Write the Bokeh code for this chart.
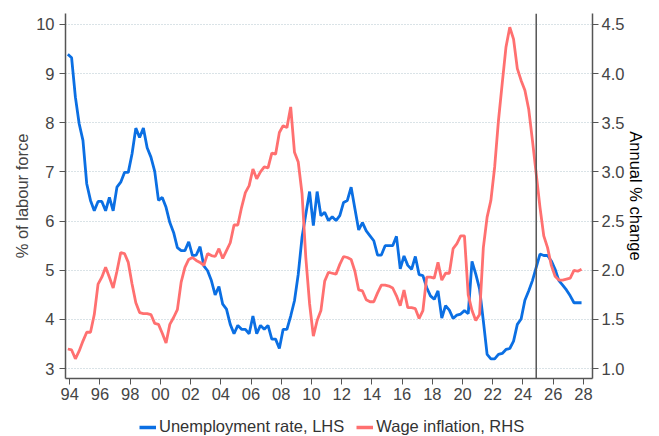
from bokeh.plotting import figure
from bokeh.layouts import column
from bokeh.models import (Range1d, LinearAxis, FixedTicker, NumeralTickFormatter,
                          Span, Legend, LegendItem, ColumnDataSource)
from bokeh.embed import file_html
from bokeh.resources import INLINE

# ---------------- data (quarterly) ----------------
start_year = 1993.875
step = 0.25

unemployment = [
    9.39, 9.32, 8.52, 7.98, 7.64, 6.76, 6.42, 6.21, 6.40, 6.40,
    6.21, 6.48, 6.21, 6.69, 6.79, 6.99, 6.99, 7.37, 7.89, 7.70,
    7.89, 7.49, 7.30, 7.01, 6.42, 6.48, 6.28, 5.97, 5.77, 5.46,
    5.40, 5.40, 5.58, 5.30, 5.31, 5.48, 5.09, 4.99, 4.79, 4.50,
    4.67, 4.31, 4.21, 3.90, 3.71, 3.88, 3.80, 3.80, 3.71, 4.07,
    3.71, 3.88, 3.80, 3.88, 3.60, 3.60, 3.41, 3.80, 3.80, 4.07,
    4.38, 4.92, 5.67, 6.14, 6.60, 5.91, 6.60, 6.11, 6.18, 6.01,
    6.09, 6.01, 6.11, 6.38, 6.42, 6.69, 6.25, 5.82, 5.97, 5.80,
    5.70, 5.60, 5.31, 5.31, 5.50, 5.50, 5.50, 5.69, 5.03, 5.29,
    5.10, 5.02, 5.28, 4.91, 4.89, 4.65, 4.48, 4.41, 4.58, 4.03,
    4.28, 4.19, 4.02, 4.09, 4.11, 4.18, 4.12, 5.18, 4.92, 4.62,
    3.97, 3.29, 3.20, 3.20, 3.29, 3.31, 3.39, 3.41, 3.56, 3.90,
    4.01, 4.39, 4.58, 4.79, 5.06, 5.33, 5.30, 5.30, 5.19, 5.02,
    4.79, 4.70, 4.60, 4.48, 4.34, 4.34, 4.34,
]

wage_inflation = [
    1.20, 1.19, 1.10, 1.18, 1.28, 1.37, 1.37, 1.55, 1.86, 1.93,
    2.03, 1.93, 1.82, 1.99, 2.18, 2.17, 2.08, 1.86, 1.67, 1.57,
    1.56, 1.56, 1.55, 1.46, 1.45, 1.36, 1.26, 1.45, 1.52, 1.60,
    1.88, 2.03, 2.11, 2.13, 2.10, 2.08, 2.05, 2.17, 2.15, 2.14,
    2.22, 2.12, 2.20, 2.28, 2.46, 2.46, 2.64, 2.79, 2.86, 3.03,
    2.93, 3.00, 3.05, 3.04, 3.19, 3.18, 3.40, 3.47, 3.45, 3.66,
    3.20, 3.10, 2.78, 2.13, 1.66, 1.33, 1.49, 1.59, 1.89, 1.98,
    1.97, 1.96, 2.06, 2.14, 2.13, 2.11, 1.99, 1.80, 1.79, 1.70,
    1.68, 1.68, 1.77, 1.85, 1.85, 1.84, 1.82, 1.74, 1.64, 1.80,
    1.62, 1.62, 1.61, 1.51, 1.59, 1.93, 1.93, 1.92, 2.08, 1.90,
    1.97, 1.97, 2.22, 2.27, 2.35, 2.35, 1.75, 1.59, 1.49, 1.55,
    2.23, 2.54, 2.71, 3.05, 3.52, 3.90, 4.27, 4.47, 4.35, 4.05,
    3.93, 3.83, 3.64, 3.32, 2.98, 2.64, 2.35, 2.23, 2.05, 1.94,
    1.90, 1.90, 1.91, 1.92, 2.00, 1.99, 2.01,
]

dates = [start_year + step * i for i in range(len(unemployment))]

x_tick_years = list(range(1994, 2029, 2))
x_tick_labels = ["94", "96", "98", "00", "02", "04", "06", "08", "10", "12",
                 "14", "16", "18", "20", "22", "24", "26", "28"]
left_ticks = [3, 4, 5, 6, 7, 8, 9, 10]
right_ticks = [1.0, 1.5, 2.0, 2.5, 3.0, 3.5, 4.0, 4.5]
forecast_start = 2024.875

series_names = ["Unemployment rate, LHS", "Wage inflation, RHS"]
BLUE = "#0B6FE3"
RED = "#FF7070"

FONT = "Liberation Sans"
TEXT = "#444444"
AXIS = "#555555"

src = ColumnDataSource(dict(x=dates, u=unemployment, w=wage_inflation))

# ---------------- main figure ----------------
p = figure(width=659, height=406, output_backend="svg", toolbar_location=None,
           x_range=Range1d(1993.72, 2028.6), y_range=Range1d(2.8, 10.22),
           min_border_left=65, min_border_right=67, min_border_top=13,
           min_border_bottom=28)
p.outline_line_color = None
p.background_fill_color = "white"
p.border_fill_color = "white"

p.extra_y_ranges = {"rhs": Range1d(0.9, 4.61)}

r_u = p.line("x", "u", source=src, line_color=BLUE, line_width=2.8)
r_w = p.line("x", "w", source=src, line_color=RED, line_width=2.8, y_range_name="rhs")

p.add_layout(Span(location=forecast_start, dimension="height",
                  line_color=AXIS, line_width=1.5))

# x axis
xa = p.xaxis[0]
xa.ticker = FixedTicker(ticks=x_tick_years)
xa.major_label_overrides = {yr: lab for yr, lab in zip(x_tick_years, x_tick_labels)}
xa.minor_tick_line_color = None

# left axis
ya = p.yaxis[0]
ya.ticker = FixedTicker(ticks=left_ticks)
ya.minor_tick_line_color = None
ya.axis_label = "% of labour force"

# right axis
ra = LinearAxis(y_range_name="rhs", ticker=FixedTicker(ticks=right_ticks),
                formatter=NumeralTickFormatter(format="0.0"),
                axis_label="Annual % change")
ra.minor_tick_line_color = None
p.add_layout(ra, "right")

for ax in [xa, ya, ra]:
    ax.axis_line_color = AXIS
    ax.axis_line_width = 1.5
    ax.major_tick_line_color = AXIS
    ax.major_tick_line_width = 1
    ax.major_tick_out = 6
    ax.major_tick_in = 0
    ax.major_label_text_font = FONT
    ax.major_label_text_font_size = "16.5px"
    ax.major_label_text_color = TEXT
    ax.axis_label_text_font = FONT
    ax.axis_label_text_font_size = "16.5px"
    ax.axis_label_text_font_style = "normal"

ya.axis_label_text_color = TEXT
ra.axis_label_text_color = "#000000"
ya.major_label_standoff = 5
ya.axis_label_standoff = 2
ra.major_label_standoff = 3
ra.axis_label_standoff = 0
xa.major_label_standoff = 3

# grid
p.xgrid.grid_line_color = None
p.ygrid.ticker = FixedTicker(ticks=left_ticks)
p.ygrid.grid_line_color = "#B4C6CF"
p.ygrid.grid_line_dash = "1 2"
p.ygrid.grid_line_width = 1

# ---------------- legend strip below the chart ----------------
# the strip's y range lies below every value, so its lines are never drawn
# inside the strip; they only provide the legend's swatches
lg = figure(width=659, height=30, output_backend="svg", toolbar_location=None,
            x_range=Range1d(1993.72, 2028.6), y_range=Range1d(-2, -1),
            min_border_left=0, min_border_right=0, min_border_top=0,
            min_border_bottom=0, x_axis_location=None, y_axis_location=None)
lg.grid.visible = False
lg.outline_line_color = None
lg.border_fill_color = "white"
lg.background_fill_color = "white"
k_u = lg.line("x", "u", source=src, line_color=BLUE, line_width=3.5)
k_w = lg.line("x", "w", source=src, line_color=RED, line_width=3.5)

legend = Legend(items=[LegendItem(label=series_names[0], renderers=[k_u]),
                       LegendItem(label=series_names[1], renderers=[k_w])],
                orientation="horizontal", location=(74, 0),
                label_text_font=FONT, label_text_font_size="16.5px",
                label_text_color="#333333", glyph_width=17, glyph_height=16,
                label_height=16, spacing=12, label_standoff=3, margin=0,
                padding=0, border_line_color=None, background_fill_alpha=0)
lg.add_layout(legend)

layout = column(p, lg, spacing=0)
open("out.html", "w").write(file_html(layout, INLINE))
